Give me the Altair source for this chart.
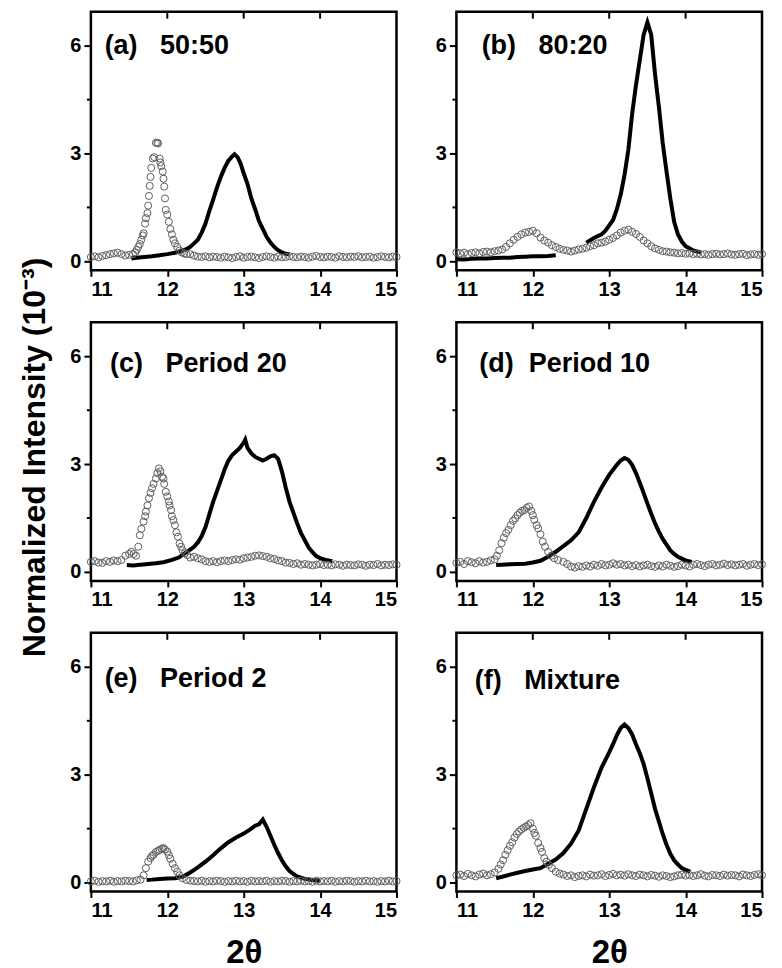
import altair as alt
import pandas as pd

# ---------------- data ----------------
X_GRID = [round(11 + 0.05 * i, 2) for i in range(81)]  # sampling grid of the open-circle scans

LABELS = ["(a)\u00a0\u00a0\u00a050:50", "(b)\u00a0\u00a0\u00a080:20", "(c)\u00a0\u00a0\u00a0Period 20",
          "(d)\u00a0\u00a0Period 10", "(e)\u00a0\u00a0\u00a0Period 2", "(f)\u00a0\u00a0\u00a0Mixture"]
LABEL_X = [11.18, 11.33, 11.25, 11.30, 11.18, 11.24]
LABEL_Y = [6.0, 6.0, 5.8, 5.8, 5.67, 5.62]

X_TICKS = [11, 12, 13, 14, 15]
Y_TICKS = [0, 3, 6]
Y_MINOR = [1.5, 4.5]
TOP_TICKS = [12, 13, 14]
N = None

# ---- black line series (one or more segments per panel) ----
a_line_x = [11.53, 11.6, 11.7, 11.8, 11.9, 12.0, 12.1, 12.2, 12.25, 12.3, 12.35, 12.4, 12.45, 12.5, 12.55,
            12.6, 12.65, 12.7, 12.75, 12.8, 12.85, 12.88, 12.92, 12.96, 13.0, 13.05, 13.1, 13.15, 13.2, 13.25,
            13.3, 13.35, 13.4, 13.45, 13.5, 13.55, 13.6]
a_line_y = [0.08, 0.1, 0.12, 0.14, 0.17, 0.2, 0.24, 0.3, 0.34, 0.4, 0.5, 0.6, 0.8, 1.05, 1.4,
            1.72, 2.05, 2.35, 2.6, 2.8, 2.92, 2.98, 2.9, 2.72, 2.45, 2.15, 1.75, 1.45, 1.12, 0.9,
            0.68, 0.52, 0.4, 0.31, 0.25, 0.21, 0.19]

b_line1_x = [11.0, 11.1, 11.2, 11.3, 11.4, 11.5, 11.6, 11.7, 11.8, 11.9, 12.0, 12.1, 12.2, 12.3]
b_line1_y = [0.06, 0.05, 0.07, 0.08, 0.08, 0.09, 0.1, 0.1, 0.12, 0.13, 0.14, 0.14, 0.15, 0.17]
b_line2_x = [12.7, 12.8, 12.9, 12.95, 13.0, 13.05, 13.1, 13.15, 13.2, 13.25, 13.3, 13.35, 13.4,
             13.45, 13.5, 13.55, 13.6, 13.65, 13.7, 13.75, 13.8, 13.85, 13.9, 13.95, 14.0, 14.1, 14.2]
b_line2_y = [0.52, 0.65, 0.75, 0.85, 1.0, 1.15, 1.45, 1.85, 2.4, 3.1, 4.1, 4.9, 5.6,
             6.3, 6.65, 6.3, 5.2, 4.3, 3.3, 2.5, 1.75, 1.1, 0.75, 0.55, 0.42, 0.3, 0.25]

c_line_x = [11.47, 11.55, 11.65, 11.75, 11.85, 11.95, 12.05, 12.15, 12.25, 12.3, 12.35, 12.4, 12.45, 12.5,
            12.55, 12.6, 12.65, 12.7, 12.75, 12.8, 12.85, 12.9, 12.95, 13.0, 13.02, 13.05, 13.1, 13.15,
            13.2, 13.25, 13.3, 13.35, 13.4, 13.45, 13.5, 13.55, 13.6, 13.65, 13.7, 13.75, 13.8, 13.85,
            13.9, 13.95, 14.0, 14.08, 14.16]
c_line_y = [0.19, 0.18, 0.2, 0.22, 0.24, 0.27, 0.33, 0.4, 0.55, 0.62, 0.7, 0.82, 1.0, 1.25,
            1.6, 1.95, 2.25, 2.55, 2.85, 3.1, 3.25, 3.35, 3.45, 3.6, 3.68, 3.45, 3.3, 3.2,
            3.15, 3.1, 3.15, 3.22, 3.25, 3.15, 2.8, 2.35, 1.95, 1.65, 1.35, 1.08, 0.88, 0.68,
            0.55, 0.44, 0.38, 0.33, 0.3]

d_line_x = [11.52, 11.6, 11.7, 11.8, 11.9, 12.0, 12.1, 12.2, 12.3, 12.4, 12.5, 12.6, 12.7, 12.8, 12.9,
            13.0, 13.1, 13.15, 13.2, 13.25, 13.3, 13.35, 13.4, 13.45, 13.5, 13.55, 13.6, 13.65, 13.7,
            13.75, 13.8, 13.85, 13.9, 13.95, 14.0, 14.08]
d_line_y = [0.19, 0.2, 0.21, 0.22, 0.23, 0.26, 0.31, 0.42, 0.56, 0.72, 0.88, 1.1, 1.5, 1.95, 2.35,
            2.7, 2.98, 3.1, 3.17, 3.12, 2.98, 2.75, 2.48, 2.2, 1.9, 1.62, 1.35, 1.12, 0.92,
            0.76, 0.6, 0.5, 0.42, 0.37, 0.32, 0.28]

e_line_x = [11.73, 11.8, 11.9, 12.0, 12.1, 12.2, 12.3, 12.4, 12.5, 12.6, 12.7, 12.8, 12.9, 13.0, 13.1,
            13.15, 13.2, 13.25, 13.3, 13.35, 13.4, 13.45, 13.5, 13.55, 13.6, 13.65, 13.7, 13.8, 13.9, 14.0]
e_line_y = [0.07, 0.08, 0.1, 0.11, 0.12, 0.16, 0.28, 0.42, 0.58, 0.76, 0.95, 1.12, 1.25, 1.36, 1.5,
            1.58, 1.62, 1.75, 1.55, 1.3, 1.05, 0.82, 0.62, 0.45, 0.32, 0.24, 0.17, 0.1, 0.07, 0.05]

f_line_x = [11.52, 11.6, 11.7, 11.8, 11.9, 12.0, 12.1, 12.2, 12.3, 12.4, 12.5, 12.6, 12.7, 12.8, 12.9,
            13.0, 13.05, 13.1, 13.15, 13.2, 13.25, 13.3, 13.35, 13.4, 13.45, 13.5, 13.55, 13.6, 13.65,
            13.7, 13.75, 13.8, 13.85, 13.9, 13.95, 14.0, 14.06]
f_line_y = [0.12, 0.16, 0.22, 0.27, 0.32, 0.36, 0.4, 0.52, 0.64, 0.82, 1.08, 1.45, 2.05, 2.65, 3.2,
            3.62, 3.85, 4.1, 4.3, 4.4, 4.3, 4.12, 3.85, 3.6, 3.3, 2.9, 2.48, 2.05, 1.7,
            1.35, 1.05, 0.8, 0.62, 0.5, 0.4, 0.35, 0.3]

# ---- open circles: values on X_GRID (None = covered by the peak list) ----
a_circ = [0.12, 0.14, 0.11, 0.15, 0.17, 0.2, 0.22, 0.24, 0.2, 0.16, 0.18,
          N, N, N, N, N, N, N, N, N, N, N, N, N, N, N,
          0.2, 0.16, 0.13, 0.12, 0.14, 0.11, 0.13, 0.12, 0.1, 0.13,
          0.11, 0.09, 0.12, 0.14, 0.1, 0.12, 0.13, 0.11, 0.09, 0.12,
          0.14, 0.12, 0.1, 0.13, 0.11, 0.12, 0.14, 0.12, 0.11, 0.13,
          0.12, 0.1, 0.13, 0.15, 0.12, 0.11, 0.13, 0.12, 0.1, 0.14,
          0.12, 0.11, 0.13, 0.12, 0.14, 0.11, 0.12, 0.13, 0.1, 0.12,
          0.14, 0.12, 0.11, 0.13, 0.12]
b_circ = [0.25, 0.22, 0.24, 0.2, 0.23, 0.25, 0.22, 0.26, 0.27, 0.25,
          0.28, 0.3, 0.33, 0.4, 0.5, 0.6, 0.68, 0.75, 0.8, 0.82,
          0.85, 0.78, 0.66, 0.58, 0.52, 0.45, 0.4, 0.35, 0.32, 0.3,
          0.27, 0.3, 0.33, 0.35, 0.38, 0.42, 0.45, 0.5, 0.52, 0.55,
          0.6, 0.65, 0.72, 0.8, 0.85, 0.88, 0.82, 0.76, 0.68, 0.58,
          0.5, 0.42, 0.36, 0.32, 0.28, 0.27, 0.25, 0.24, 0.22, 0.23,
          0.21, 0.22, 0.2, 0.21, 0.19, 0.2, 0.18, 0.2, 0.21, 0.19,
          0.2, 0.22, 0.19, 0.18, 0.2, 0.21, 0.17, 0.19, 0.2, 0.18,
          0.2]
c_circ = [0.28, 0.3, 0.26, 0.25, 0.3, 0.28, 0.32, 0.3, 0.33, 0.45,
          N, N, N, N, N, N, N, N, N, N, N, N, N, N, N, N, N,
          0.42, 0.38, 0.35, 0.3, 0.28, 0.3, 0.27, 0.3, 0.32, 0.3,
          0.33, 0.35, 0.34, 0.38, 0.4, 0.42, 0.45, 0.46, 0.44, 0.42,
          0.38, 0.36, 0.32, 0.3, 0.26, 0.25, 0.22, 0.24, 0.2, 0.22,
          0.2, 0.18, 0.2, 0.22, 0.19, 0.2, 0.18, 0.21, 0.2, 0.17,
          0.2, 0.19, 0.18, 0.21, 0.2, 0.17, 0.2, 0.19, 0.22, 0.18,
          0.2, 0.19, 0.21, 0.2]
d_circ = [0.25, 0.28, 0.22, 0.3, 0.27, 0.24, 0.3, 0.26, 0.28, 0.32,
          N, N, N, N, N, N, N, N, N, N, N, N, N, N, N, N, N, N,
          0.28, 0.22, 0.15, 0.12, 0.16, 0.14, 0.18, 0.15, 0.2, 0.17,
          0.22, 0.18, 0.2, 0.24, 0.2, 0.22, 0.18, 0.2, 0.16, 0.19,
          0.15, 0.18, 0.2, 0.16, 0.14, 0.18, 0.15, 0.2, 0.17, 0.14,
          0.16, 0.2, 0.18, 0.15, 0.2, 0.22, 0.19, 0.16, 0.2, 0.22,
          0.18, 0.2, 0.23, 0.19, 0.21, 0.18, 0.2, 0.22, 0.17, 0.2,
          0.22, 0.19, 0.21]
e_circ = [0.03, 0.05, 0.02, 0.04, 0.03, 0.05, 0.02, 0.04, 0.03, 0.05, 0.04, 0.03, 0.06, 0.08,
          N, N, N, N, N, N, N, N, N, N, N, N,
          0.05, 0.04, 0.03, 0.05, 0.02, 0.04, 0.03, 0.05, 0.04, 0.02,
          0.04, 0.03, 0.05, 0.03, 0.04, 0.02, 0.05, 0.03, 0.04, 0.03,
          0.05, 0.02, 0.04, 0.03, 0.05, 0.04, 0.02, 0.04, 0.03, 0.05,
          0.03, 0.04, 0.02, 0.05, 0.03, 0.04, 0.03, 0.05, 0.02, 0.04,
          0.03, 0.05, 0.04, 0.02, 0.04, 0.03, 0.05, 0.03, 0.04, 0.02,
          0.04, 0.03, 0.05, 0.03, 0.04]
f_circ = [0.2, 0.22, 0.18, 0.24, 0.2, 0.17, 0.22, 0.25, 0.2, 0.23, 0.28,
          N, N, N, N, N, N, N, N, N, N, N, N, N, N, N, N,
          0.25, 0.22, 0.18, 0.2, 0.15, 0.18, 0.2, 0.17, 0.22, 0.19,
          0.2, 0.23, 0.18, 0.21, 0.24, 0.2, 0.22, 0.19, 0.23, 0.2,
          0.18, 0.22, 0.2, 0.17, 0.21, 0.19, 0.16, 0.2, 0.18, 0.15,
          0.17, 0.2, 0.22, 0.19, 0.21, 0.18, 0.2, 0.23, 0.19, 0.17,
          0.21, 0.2, 0.18, 0.22, 0.19, 0.21, 0.2, 0.17, 0.22, 0.2,
          0.18, 0.21, 0.23, 0.2]

# ---- open circles in the peak regions (denser sampling) ----
a_peak_x = [11.55, 11.58, 11.60, 11.62, 11.64, 11.66, 11.68, 11.69, 11.71, 11.72, 11.74, 11.75, 11.76, 11.77,
            11.78, 11.79, 11.81, 11.83, 11.85, 11.87, 11.88, 11.90, 11.91, 11.92, 11.94, 11.95, 11.96, 11.97,
            11.98, 12.00, 12.02, 12.04, 12.06, 12.08, 12.10, 12.13, 12.16, 12.19, 12.22, 12.25]
a_peak_y = [0.2, 0.25, 0.32, 0.4, 0.48, 0.6, 0.72, 0.78, 1.05, 1.2, 1.34, 1.55, 1.82, 2.1,
            2.35, 2.6, 2.86, 2.9, 3.3, 3.3, 3.28, 2.86, 2.75, 2.65, 2.5, 2.3, 2.08, 1.75,
            1.43, 1.3, 1.1, 0.9, 0.75, 0.6, 0.5, 0.4, 0.3, 0.25, 0.22, 0.2]
b_peak_x = []
b_peak_y = []
c_peak_x = [11.50, 11.53, 11.56, 11.59, 11.62, 11.64, 11.66, 11.69, 11.71, 11.72, 11.74, 11.76, 11.78,
            11.80, 11.82, 11.85, 11.87, 11.89, 11.91, 11.93, 11.95, 11.96, 11.98, 12.00, 12.02, 12.03,
            12.05, 12.06, 12.08, 12.10, 12.12, 12.14, 12.16, 12.18, 12.20, 12.23, 12.26, 12.30]
c_peak_y = [0.5, 0.56, 0.5, 0.45, 0.7, 1.02, 1.2, 1.4, 1.55, 1.68, 1.85, 2.05, 2.2,
            2.33, 2.45, 2.6, 2.75, 2.88, 2.8, 2.65, 2.6, 2.45, 2.23, 2.1, 1.96, 1.85,
            1.72, 1.55, 1.44, 1.3, 1.1, 0.98, 0.79, 0.7, 0.6, 0.52, 0.47, 0.4]
d_peak_x = [11.50, 11.53, 11.56, 11.59, 11.62, 11.65, 11.68, 11.71, 11.74, 11.77, 11.80, 11.83, 11.86,
            11.89, 11.92, 11.95, 11.98, 12.00, 12.02, 12.05, 12.07, 12.10, 12.13, 12.16, 12.20, 12.24,
            12.28, 12.33]
d_peak_y = [0.35, 0.45, 0.6, 0.8, 0.95, 1.08, 1.17, 1.3, 1.42, 1.49, 1.58, 1.65, 1.7,
            1.72, 1.78, 1.82, 1.7, 1.58, 1.45, 1.3, 1.21, 1.05, 0.84, 0.7, 0.56, 0.45,
            0.38, 0.33]
e_peak_x = [11.69, 11.72, 11.75, 11.78, 11.80, 11.82, 11.85, 11.88, 11.90, 11.93, 11.95, 11.97, 12.00,
            12.02, 12.04, 12.07, 12.10, 12.13, 12.16, 12.20, 12.25]
e_peak_y = [0.2, 0.4, 0.58, 0.68, 0.74, 0.77, 0.85, 0.88, 0.91, 0.94, 0.96, 0.92, 0.86,
            0.76, 0.66, 0.52, 0.4, 0.3, 0.2, 0.12, 0.07]
f_peak_x = [11.55, 11.58, 11.61, 11.64, 11.67, 11.70, 11.73, 11.76, 11.79, 11.82, 11.85, 11.88, 11.91,
            11.94, 11.97, 12.00, 12.02, 12.04, 12.07, 12.10, 12.12, 12.15, 12.18, 12.21, 12.25, 12.30]
f_peak_y = [0.38, 0.5, 0.62, 0.77, 0.9, 1.02, 1.12, 1.25, 1.35, 1.42, 1.48, 1.52, 1.56,
            1.6, 1.65, 1.5, 1.38, 1.3, 1.1, 0.96, 0.85, 0.68, 0.58, 0.49, 0.4, 0.3]

LINES = [[(a_line_x, a_line_y)], [(b_line1_x, b_line1_y), (b_line2_x, b_line2_y)],
         [(c_line_x, c_line_y)], [(d_line_x, d_line_y)], [(e_line_x, e_line_y)], [(f_line_x, f_line_y)]]
CIRCS = [a_circ, b_circ, c_circ, d_circ, e_circ, f_circ]
PEAKS = [(a_peak_x, a_peak_y), (b_peak_x, b_peak_y), (c_peak_x, c_peak_y),
         (d_peak_x, d_peak_y), (e_peak_x, e_peak_y), (f_peak_x, f_peak_y)]

FONT = "Liberation Sans"
W, H = 306, 259
XS = alt.Scale(domain=[11, 15], nice=False, zero=False)
YS = alt.Scale(domain=[-0.25, 6.95], nice=False, zero=False)
LAB = dict(labelFont=FONT, labelFontWeight="bold", labelFontSize=20, labelColor="black",
           tickColor="black", tickWidth=2, grid=False, domain=False,
           titleFont=FONT, titleFontWeight="bold", titleColor="black")


def panel(i, xtitle, ytitle):
    xa = dict(values=X_TICKS, format="d", tickSize=6, labelPadding=3, **LAB)
    if xtitle:
        xa.update(title="2\u03b8", titleFontSize=33, titlePadding=16)
    else:
        xa.update(title=None)
    ya = dict(values=Y_TICKS, format="d", tickSize=7, labelPadding=3, **LAB)
    if ytitle:
        ya.update(title="Normalized Intensity (10\u207b\u00b3)", titleFontSize=32, titleAngle=270,
                  titleX=-46, titleY=135, titleAlign="center", titleBaseline="alphabetic")
    else:
        ya.update(title=None)
    X = alt.X("x:Q", scale=XS, axis=alt.Axis(**xa))
    Y = alt.Y("y:Q", scale=YS, axis=alt.Axis(**ya))

    rows = []
    for s, (lx, ly) in enumerate(LINES[i]):
        rows += [(x, y, s) for x, y in zip(lx, ly)]
    df_line = pd.DataFrame(rows, columns=["x", "y", "seg"])
    pts = [(x, y) for x, y in zip(X_GRID, CIRCS[i]) if y is not None]
    pts += list(zip(*PEAKS[i])) if PEAKS[i][0] else []
    df_c = pd.DataFrame(pts, columns=["x", "y"]).sort_values("x")

    line = alt.Chart(df_line).mark_line(color="black", strokeWidth=4).encode(
        x=X, y=Y, detail="seg:N", order="x:Q")
    circ = alt.Chart(df_c).mark_point(shape="circle", size=50, filled=False,
                                      color="#5e5e5e", strokeWidth=1, opacity=1).encode(x=X, y=Y)
    top = alt.Chart(pd.DataFrame({"x": TOP_TICKS})).mark_rule(color="black", strokeWidth=2).encode(
        x=X, y=alt.value(0), y2=alt.value(7))
    minor = alt.Chart(pd.DataFrame({"y": Y_MINOR})).mark_rule(color="black", strokeWidth=2).encode(
        y=Y, x=alt.value(-4), x2=alt.value(0))
    lab = alt.Chart(pd.DataFrame({"x": [LABEL_X[i]], "y": [LABEL_Y[i]], "t": [LABELS[i]]})).mark_text(
        align="left", baseline="middle", fontSize=27, fontWeight="bold", font=FONT, color="black"
    ).encode(x=X, y=Y, text="t:N")
    return alt.layer(line, circ, top, minor, lab).properties(width=W, height=H)


panels = [panel(0, False, False), panel(1, False, False),
          panel(2, False, True), panel(3, False, False),
          panel(4, True, False), panel(5, True, False)]

chart = alt.concat(*panels, columns=2, spacing={"row": 52, "column": 60}, bounds="flush").properties(
    padding={"left": 9, "top": 0, "right": 5, "bottom": 5}
).configure_view(
    stroke="black", strokeWidth=2.5
)

chart.save("out.html", embed_options={"renderer": "svg", "actions": False})
